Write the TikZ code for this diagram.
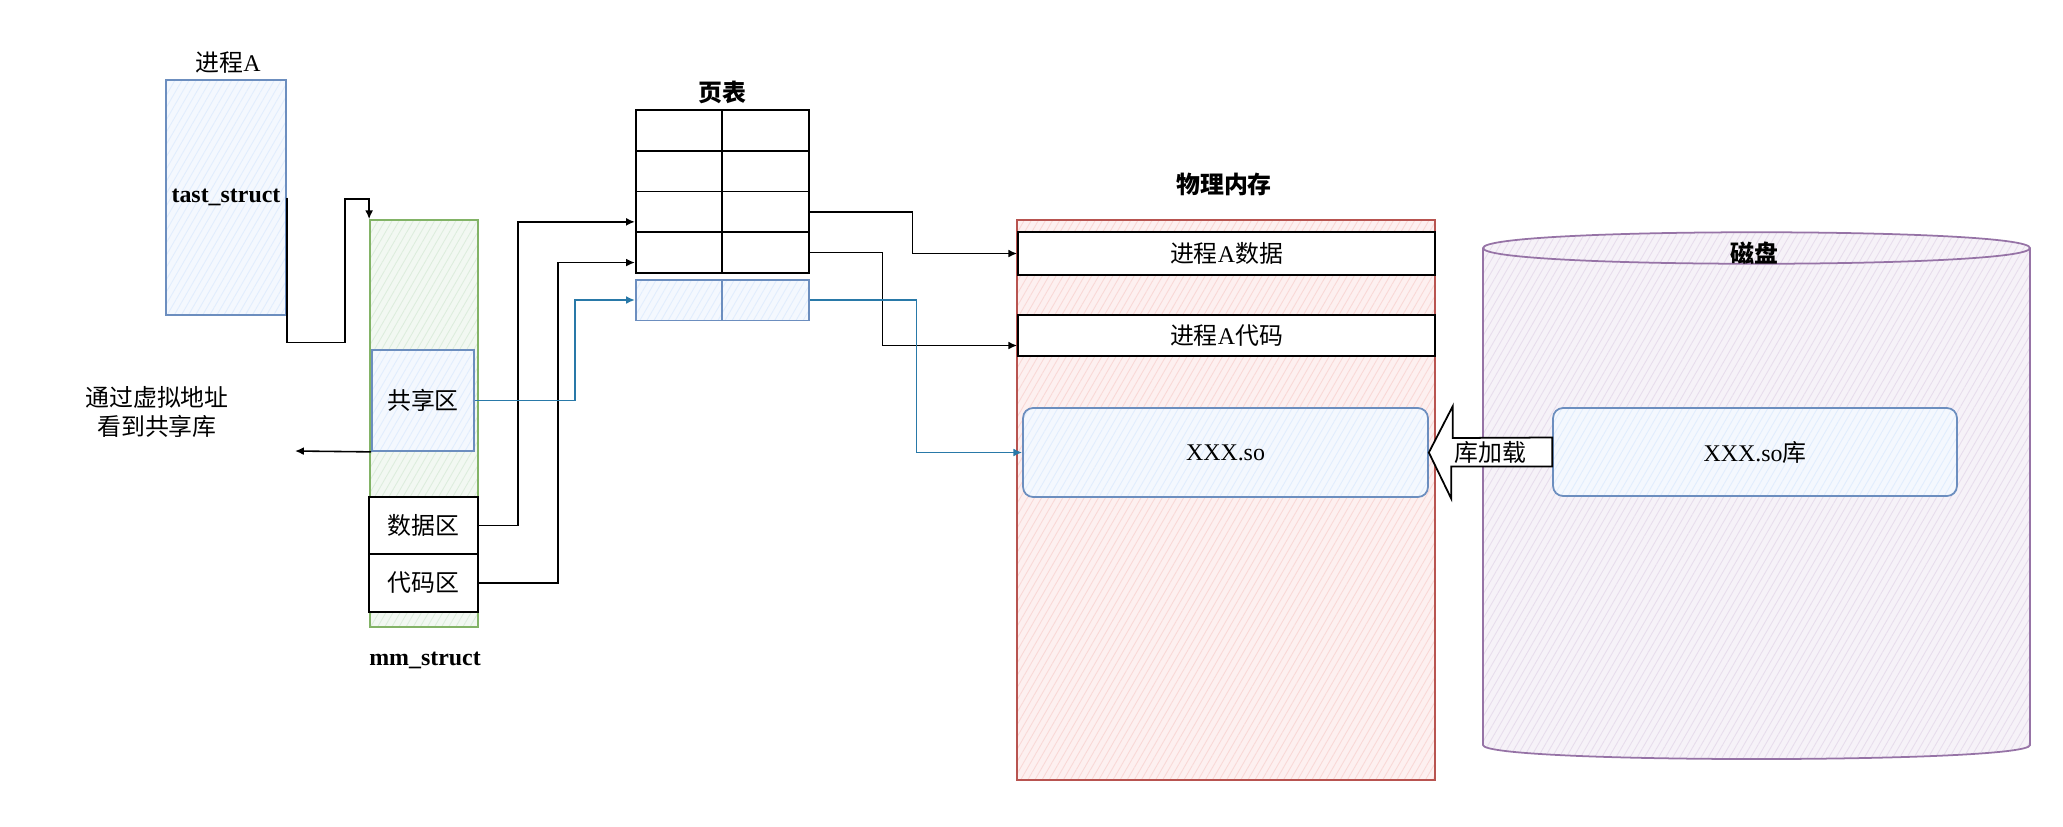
\documentclass[tikz,border=0pt]{standalone}
\usepackage{fontspec}
\setmainfont{Liberation Serif}
\newfontfamily\cjk{Noto Sans CJK SC}
\usetikzlibrary{calc,arrows.meta,patterns.meta}
\definecolor{dkblue}{RGB}{108,142,191}
\definecolor{dkbluefill}{RGB}{218,232,252}
\definecolor{dkgreen}{RGB}{130,179,102}
\definecolor{dkgreenfill}{RGB}{213,232,212}
\definecolor{dkred}{RGB}{184,84,80}
\definecolor{dkredfill}{RGB}{248,206,204}
\definecolor{dkpurple}{RGB}{150,115,166}
\definecolor{dkpurplefill}{RGB}{225,213,231}
\definecolor{linkblue}{RGB}{41,121,168}

\tikzset{
  hatched/.style={draw=#1, line width=1pt,
    preaction={fill=#1fill!30!white},
    preaction={pattern={Lines[angle=60,distance=3.5pt,line width=0.5pt]}, pattern color=#1fill!80!white}},
  cell/.style={draw=black, line width=1pt, fill=white, minimum width=1.73cm, minimum height=0.815cm},
  zh/.style={font=\fontsize{13.6}{16}\selectfont\cjk},
  link/.style={draw=black, line width=0.9pt, -{Latex[length=5pt,width=4.5pt]}},
  bluelink/.style={link, draw=linkblue},
}

\begin{document}
\begin{tikzpicture}[x=0.02cm, y=-0.02cm, font=\fontsize{13.6}{16}\selectfont]
\useasboundingbox (0,0) rectangle (2063,826);

% Process A
\node (tasktitle) at (228,63) {{\cjk 进程}A};
\node[hatched=dkblue, minimum width=2.32cm, minimum height=4.7cm] (task) at (226,197.5) {\bfseries tast\_struct};

% mm_struct and its areas
\node[hatched=dkgreen, minimum width=2.16cm, minimum height=8.14cm] (mm) at (424,423.5) {};
\node (mmlabel) at (425,660) {\bfseries mm\_struct};
\node[hatched=dkblue, minimum width=2.04cm, minimum height=2.02cm, zh] (share) at (423,400.5) {共享区};
\node[cell, minimum width=2.18cm, minimum height=1.14cm, zh] (data) at (423.5,525.5) {数据区};
\node[cell, minimum width=2.18cm, minimum height=1.16cm, zh] (code) at (423.5,583) {代码区};
\node[zh, align=center] (note) at (157,412) {通过虚拟地址\\看到共享库};
\coordinate (seeend) at (295,451);

% Page table
\node[zh] (pttitle) at (722,92) {\bfseries 页表};
\foreach \r in {1,...,4} {
    \node[cell] (pl\r) at (679,{89.75+40.7*\r}) {};
    \node[cell] (pr\r) at (765.5,{89.75+40.7*\r}) {};
}
\node[cell, fill=none, hatched=dkblue] (pl5) at (679,300) {};
\node[cell, fill=none, hatched=dkblue] (pr5) at (765.5,300) {};

% Physical memory
\node[zh] (memtitle) at (1224,184) {\bfseries 物理内存};
\node[hatched=dkred, minimum width=8.36cm, minimum height=11.2cm] (mem) at (1226,500) {};
\node[cell, minimum width=8.34cm, minimum height=0.86cm] (memdata) at (1226.5,253.5) {{\cjk 进程}A{\cjk 数据}};
\node[cell, minimum width=8.34cm, minimum height=0.82cm] (memcode) at (1226.5,335.5) {{\cjk 进程}A{\cjk 代码}};
\node[hatched=dkblue, rounded corners=0.2cm, minimum width=8.1cm, minimum height=1.78cm] (memso) at (1225.5,452.5) {XXX.so};

% Disk
\path[hatched=dkpurple] (1483,248) -- (1483,745) .. controls (1483,763.7) and (2030,763.7) .. (2030,745)
    -- (2030,248) .. controls (2030,227) and (1483,227) .. cycle;
\draw[dkpurple, line width=1pt] (1483,248) .. controls (1483,269) and (2030,269) .. (2030,248);
\node[zh] (disktitle) at (1754,253) {\bfseries 磁盘};
\node[hatched=dkblue, rounded corners=0.2cm, minimum width=8.08cm, minimum height=1.76cm] (disklib) at (1755,452) {XXX.so{\cjk 库}};

% Library loading
\draw[line width=1pt, fill=white] (memso.east) -- ++(24,-46.5) -- ++(0,32)
    -- ($(disklib.west)+(0,-14.5)$) -- ($(disklib.west)+(0,14.5)$) -- ++(-101,0) -- ++(0,32) -- cycle;
\node[zh] (loadlbl) at ($(memso.east)!0.5!(disklib.west)$) {库加载};

% Connections
\draw[link] (task.east) -- ++(0,145) -- ++(58,0) |- ($(mm.north west)+(0,-20)$) -- (mm.north west);
\draw[link] (share.south west) -- (seeend);
\draw[link] (data.east) -- ++(39,0) |- ($(pl3.west)+(0,10)$);
\draw[link] (code.east) -- ++(79,0) |- ($(pl4.west)+(0,10)$);
\draw[bluelink] (share.east) -- ++(100,0) |- (pl5.west);
\draw[link] (pr3.east) -- ++(103,0) |- (memdata.west);
\draw[link] (pr4.east) -- ++(73,0) |- ($(memcode.west)+(0,10)$);
\draw[bluelink] (pr5.east) -- ++(107,0) |- (memso.west);
\end{tikzpicture}
\end{document}
